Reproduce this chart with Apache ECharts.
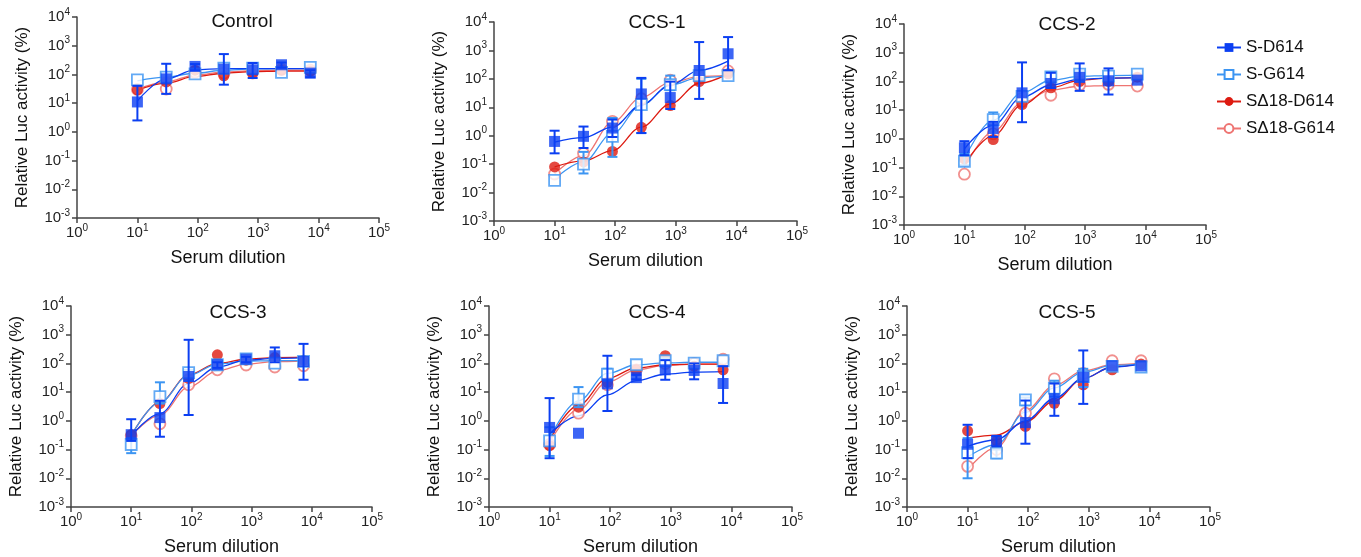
<!DOCTYPE html>
<html><head><meta charset="utf-8">
<script src="https://cdn.jsdelivr.net/npm/echarts@6/dist/echarts.min.js"></script>
<style>html,body{margin:0;padding:0;background:#fff}#c{width:1361px;height:557px}</style>
</head><body><div id="c"></div>
<script>
// ---------------- DATA ----------------
const dilution = [10, 30, 90, 270, 810, 2430, 7290];
const panelTitles = ['Control', 'CCS-1', 'CCS-2', 'CCS-3', 'CCS-4', 'CCS-5'];
const seriesNames = ['S-D614', 'S-G614', 'SΔ18-D614', 'SΔ18-G614'];
const xTickExponents = [0, 1, 2, 3, 4, 5];
const yTickExponents = [-3, -2, -1, 0, 1, 2, 3, 4];

// measured points, one row per panel
const SD614 = [
  [11, 70, 190, 153, 145, 217, 111],
  [0.63, 0.95, 1.86, 29.5, 22, 197, 763],
  [0.49, 2.3, 40, 85, 138, 105, 111],
  [0.33, 1.3, 35, 90, 141, 185, 117],
  [0.59, 0.37, 19.5, 32, 60, 57, 20],
  [0.153, 0.2, 0.87, 5.9, 33, 83, 83]
];
const SG614 = [
  [65, 80, 105, 165, 165, 117, 175],
  [0.027, 0.1, 0.95, 12.4, 63, 130, 130],
  [0.166, 4.7, 30, 145, 180, 153, 180],
  [0.15, 7, 48, 90, 145, 103, 117],
  [0.2, 5.7, 42, 90, 124, 103, 124],
  [0.078, 0.075, 5.4, 13.8, 35, 79, 75]
];
const D18_D614 = [
  [29, 55, 140, 90, 105, 140, 130],
  [0.08, 0.12, 0.28, 1.97, 11.5, 80, 150],
  [0.2, 0.95, 15.7, 60, 100, 100, 140],
  [0.33, 4, 30, 200, 130, 160, 130],
  [0.138, 3, 22, 60, 185, 80, 60],
  [0.45, 0.2, 0.64, 4.1, 18, 60, 95]
];
const D18_G614 = [
  [30, 31, 120, 110, 130, 150, 140],
  [0.045, 0.24, 3.2, 20, 90, 120, 190],
  [0.059, 1.5, 20, 33, 75, 79, 69],
  [0.3, 0.79, 18, 60, 88, 75, 83],
  [0.15, 1.85, 18, 60, 100, 100, 140],
  [0.026, 0.1, 1.85, 29, 45, 124, 124]
];

// error bars [low, high] (null = not visible)
const SD614_err = [
  [[2.5, 40], [21, 235], [140, 230], [44, 511], [75, 250], [170, 260], [80, 140]],
  [[0.24, 1.5], [0.37, 2.1], [0.9, 3.7], [1.24, 108], [8.7, 80], [19.7, 1970], [200, 2950]],
  [[0.27, 0.83], [1.17, 3.9], [3.8, 460], [60, 200], [47, 424], [35, 284], null],
  [[0.2, 1.14], [0.28, 5], [1.6, 665], [70, 110], [110, 170], [110, 360], [27, 480]],
  [[0.05, 6.2], null, [2.2, 185], [28, 40], [27, 130], [28, 100], [4.2, 80]],
  [[0.05, 0.73], [0.13, 0.3], [0.16, 5.1], [1.5, 20], [3.9, 283], null, null]
];
const SG614_err = [
  [null, null, null, null, null, null, null],
  [null, [0.047, 0.27], [0.18, 4.2], [1.24, 100], [40, 130], null, null],
  [[0.12, 0.3], [3, 8.3], null, [100, 210], [100, 230], null, null],
  [[0.075, 0.25], [4, 22], [25, 60], null, null, null, null],
  [[0.06, 0.6], [3, 15], [25, 65], null, [80, 150], null, null],
  [[0.01, 0.25], [0.05, 0.1], [3.5, 6.5], [7, 25], [15, 65], null, null]
];

// fitted curves read at each dilution
const SD614_fit = [
  [12, 70, 145, 160, 160, 160, 160],
  [0.6, 0.85, 2.0, 12, 60, 200, 420],
  [0.45, 3, 28, 75, 120, 130, 135],
  [0.3, 1.8, 20, 75, 130, 150, 155],
  [0.35, 1.5, 8, 25, 42, 50, 52],
  [0.13, 0.22, 1.0, 6, 30, 75, 95]
];
const SG614_fit = [
  [60, 80, 110, 140, 155, 160, 160],
  [0.03, 0.12, 1.2, 12, 60, 110, 130],
  [0.2, 4.5, 40, 110, 150, 160, 165],
  [0.3, 4.5, 38, 95, 120, 125, 125],
  [0.25, 5, 45, 90, 105, 110, 110],
  [0.055, 0.15, 2.0, 14, 50, 85, 95]
];
const D18_D614_fit = [
  [28, 50, 85, 110, 125, 130, 130],
  [0.08, 0.13, 0.3, 2.0, 13, 70, 150],
  [0.13, 1.3, 15, 60, 110, 130, 135],
  [0.3, 4.5, 40, 100, 140, 160, 165],
  [0.22, 3.5, 30, 70, 90, 95, 95],
  [0.25, 0.32, 0.9, 5, 30, 75, 100]
];
const D18_G614_fit = [
  [30, 55, 95, 120, 135, 140, 140],
  [0.045, 0.2, 3, 22, 75, 120, 135],
  [0.1, 1.8, 18, 50, 68, 72, 72],
  [0.3, 1.6, 15, 55, 95, 115, 120],
  [0.18, 2.5, 22, 60, 85, 95, 95],
  [0.02, 0.12, 2.3, 17, 55, 90, 100]
];

// ---------------- STYLE / LAYOUT ----------------
const FONT = 'Liberation Sans, Arial, Helvetica, sans-serif';
const styles = [
  {color: '#0b3ff2', symbol: 'rect', open: false, size: 11, z: 8},
  {color: '#3c95f2', symbol: 'rect', open: true, size: 11, z: 7},
  {color: '#dd1a10', symbol: 'circle', open: false, size: 11, z: 6},
  {color: '#ee7472', symbol: 'circle', open: true, size: 11, z: 5}
];
const pointSets = [SD614, SG614, D18_D614, D18_G614];
const fitSets = [SD614_fit, SG614_fit, D18_D614_fit, D18_G614_fit];
const errSets = [SD614_err, SG614_err, null, null];

const grids = [
  {left: 77, top: 17, width: 302, height: 201},
  {left: 494, top: 22, width: 303, height: 199},
  {left: 904, top: 24, width: 302, height: 201},
  {left: 71, top: 306, width: 301, height: 201},
  {left: 489, top: 306, width: 303, height: 201},
  {left: 907, top: 306, width: 303, height: 201}
];
const titlePos = [[242, 12], [657, 13], [1067, 15], [238, 303], [657, 303], [1067, 303]];

function powLabel(v) {
  const e = Math.round(Math.log10(v));
  return '{b|10}{s|' + e + '}';
}
const labelRich = {
  b: {fontSize: 15, fontFamily: FONT, color: '#222', lineHeight: 20},
  s: {fontSize: 10, fontFamily: FONT, color: '#222', lineHeight: 11, verticalAlign: 'top'}
};
const axisLine = {show: true, lineStyle: {color: '#444', width: 1.5}};
const axisTick = {show: true, length: 5, lineStyle: {color: '#444', width: 1.5}};

const option = {
  animation: false,
  backgroundColor: '#fff',
  title: panelTitles.map((t, i) => ({
    text: t, left: titlePos[i][0], top: titlePos[i][1], textAlign: 'center', padding: 0,
    textStyle: {fontFamily: FONT, fontSize: 19, fontWeight: 'normal', color: '#111'}
  })),
  legend: {
    orient: 'vertical', left: 1211, top: 34, itemWidth: 24, itemHeight: 11, itemGap: 10,
    data: seriesNames,
    textStyle: {fontFamily: FONT, fontSize: 17, color: '#111'},
    selectedMode: false
  },
  grid: grids,
  xAxis: grids.map((g, i) => ({
    gridIndex: i, type: 'log', logBase: 10,
    min: Math.pow(10, xTickExponents[0]), max: Math.pow(10, xTickExponents[xTickExponents.length - 1]),
    splitNumber: xTickExponents.length - 1,
    name: 'Serum dilution', nameLocation: 'middle', nameGap: 31,
    nameTextStyle: {fontFamily: FONT, fontSize: 18, color: '#111'},
    axisLine, axisTick, splitLine: {show: false}, minorTick: {show: false},
    axisLabel: {formatter: powLabel, rich: labelRich, margin: 5}
  })),
  yAxis: grids.map((g, i) => ({
    gridIndex: i, type: 'log', logBase: 10,
    min: Math.pow(10, yTickExponents[0]), max: Math.pow(10, yTickExponents[yTickExponents.length - 1]),
    splitNumber: yTickExponents.length - 1,
    name: 'Relative Luc activity (%)', nameLocation: 'middle', nameGap: 46,
    nameTextStyle: {fontFamily: FONT, fontSize: 17, color: '#111'},
    axisLine, axisTick, splitLine: {show: false}, minorTick: {show: false},
    axisLabel: {formatter: powLabel, rich: labelRich, margin: 7}
  })),
  series: []
};

// legend proxies (line + marker)
styles.forEach((s, k) => {
  option.series.push({
    name: seriesNames[k], type: 'line', xAxisIndex: 0, yAxisIndex: 0, data: [],
    symbol: s.symbol, symbolSize: 10,
    lineStyle: {color: s.color, width: 1.5},
    itemStyle: s.open ? {color: '#fff', borderColor: s.color, borderWidth: 1.5} : {color: s.color}
  });
});

for (let p = 0; p < panelTitles.length; p++) {
  for (let k = 3; k >= 0; k--) {
    const s = styles[k];
    // fit curve
    option.series.push({
      name: seriesNames[k], type: 'line', xAxisIndex: p, yAxisIndex: p,
      data: dilution.map((x, j) => [x, fitSets[k][p][j]]),
      smooth: 0.35, smoothMonotone: 'x', symbol: 'none', silent: true,
      lineStyle: {color: s.color, width: 1.3}, z: 2
    });
    // error bars
    if (errSets[k]) {
      const ed = [];
      dilution.forEach((x, j) => { const e = errSets[k][p][j]; if (e) ed.push([x, e[0], e[1]]); });
      option.series.push({
        name: seriesNames[k], type: 'custom', xAxisIndex: p, yAxisIndex: p, data: ed, z: s.z - 0.5,
        silent: true,
        renderItem: (params, api) => {
          const a = api.coord([api.value(0), api.value(1)]);
          const b = api.coord([api.value(0), api.value(2)]);
          const w = 5;
          const st = {stroke: s.color, lineWidth: 2};
          return {type: 'group', children: [
            {type: 'line', shape: {x1: a[0], y1: a[1], x2: b[0], y2: b[1]}, style: st},
            {type: 'line', shape: {x1: a[0] - w, y1: a[1], x2: a[0] + w, y2: a[1]}, style: st},
            {type: 'line', shape: {x1: b[0] - w, y1: b[1], x2: b[0] + w, y2: b[1]}, style: st}
          ]};
        }
      });
    }
    // points
    option.series.push({
      name: seriesNames[k], type: 'scatter', xAxisIndex: p, yAxisIndex: p,
      data: dilution.map((x, j) => [x, pointSets[k][p][j]]),
      symbol: s.symbol, symbolSize: s.size, z: s.z,
      itemStyle: s.open ? {color: '#fff', borderColor: s.color, borderWidth: 1.8} : {color: s.color}
    });
  }
}

const chart = echarts.init(document.getElementById('c'), null, {renderer: 'canvas'});
chart.setOption(option);
</script></body></html>
